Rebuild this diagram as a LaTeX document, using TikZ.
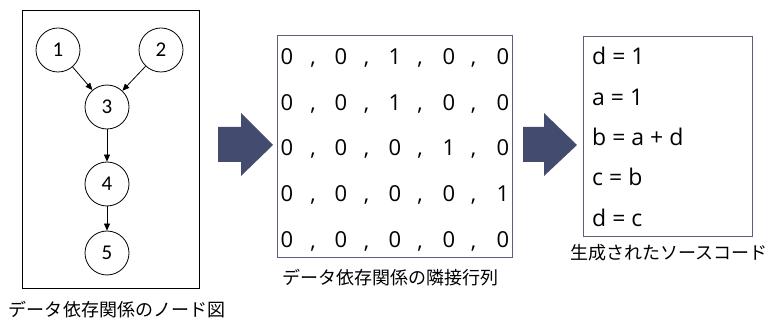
\documentclass[tikz,border=0pt]{standalone}
\usepackage{fontspec}
\setmainfont{Noto Sans CJK JP}
\newfontfamily\latinfont{Open Sans}
\newfontfamily\numfont{Carlito}
\usetikzlibrary{arrows.meta}
\definecolor{arrowblue}{HTML}{434C6E}
\definecolor{boxgray}{HTML}{5B6078}
\tikzset{
  vnode/.style={circle,draw=black,line width=0.8pt,minimum size=44pt,inner sep=0pt,font=\numfont\fontsize{21}{21}\selectfont},
  dep/.style={-{Triangle[length=7pt,width=6pt]},line width=0.8pt},
  cell/.style={inner sep=0pt,anchor=center,font=\latinfont\fontsize{22}{22}\selectfont},
  comma/.style={inner sep=0pt,anchor=base,font=\latinfont\fontsize{22}{22}\selectfont},
  codeline/.style={inner sep=0pt,anchor=west,font=\latinfont\fontsize{23}{23}\selectfont},
  caption/.style={inner sep=0pt,font=\fontsize{18}{18}\selectfont},
  bigarrow/.style={fill=arrowblue,draw=none},
}
\begin{document}
\begin{tikzpicture}[x=1pt,y=-1pt]
\useasboundingbox (0,0) rectangle (770,320);
% left box
\node[draw=black,line width=0.8pt,minimum width=177pt,minimum height=278pt,inner sep=0pt] (lbox) at (110.5,149) {};
\node[vnode] (n1) at (58,50) {1};
\node[vnode] (n2) at (161,50) {2};
\node[vnode] (n3) at (107,107) {3};
\node[vnode] (n4) at (107,184) {4};
\node[vnode] (n5) at (107,253) {5};
\draw[dep] (n1) -- (n3);
\draw[dep] (n2) -- (n3);
\draw[dep] (n3) -- (n4);
\draw[dep] (n4) -- (n5);
\node[caption] (cap1) at (117,310) {データ依存関係のノード図};
% arrow 1
\fill[bigarrow] (218,127) -- (241,127) -- (241,113) -- (273,145) -- (241,176) -- (241,162) -- (218,162) -- cycle;
% matrix box
\node[draw=boxgray,line width=0.8pt,minimum width=235pt,minimum height=222pt,inner sep=0pt] (mbox) at (394.5,146) {};
\foreach \r/\y/\vals in {1/57/{0,0,1,0,0},2/103/{0,0,1,0,0},3/148/{0,0,0,1,0},4/194/{0,0,0,0,1},5/240/{0,0,0,0,0}}{
  \foreach \v [count=\c] in \vals {
    \node[cell] (m\r-\c) at ({287+(\c-1)*54},\y) {\v};
  }
  \foreach \c in {1,2,3,4}{
    \node[comma] (k\r-\c) at ({313+(\c-1)*53.5},\y+8) {,};
  }
}
\node[caption] (cap2) at (390,278) {データ依存関係の隣接行列};
% arrow 2
\fill[bigarrow] (523,127) -- (544,127) -- (544,113) -- (577,145) -- (544,176) -- (544,162) -- (523,162) -- cycle;
% code box
\node[draw=boxgray,line width=0.8pt,minimum width=169pt,minimum height=200pt,inner sep=0pt] (cbox) at (667.5,136) {};
\node[codeline] (c1) at (592,56) {d = 1};
\node[codeline] (c2) at (592,97) {a = 1};
\node[codeline] (c3) at (592,137) {b = a + d};
\node[codeline] (c4) at (592,177) {c = b};
\node[codeline] (c5) at (592,218) {d = c};
\node[caption] (cap3) at (669,253) {生成されたソースコード};
\end{tikzpicture}
\end{document}
